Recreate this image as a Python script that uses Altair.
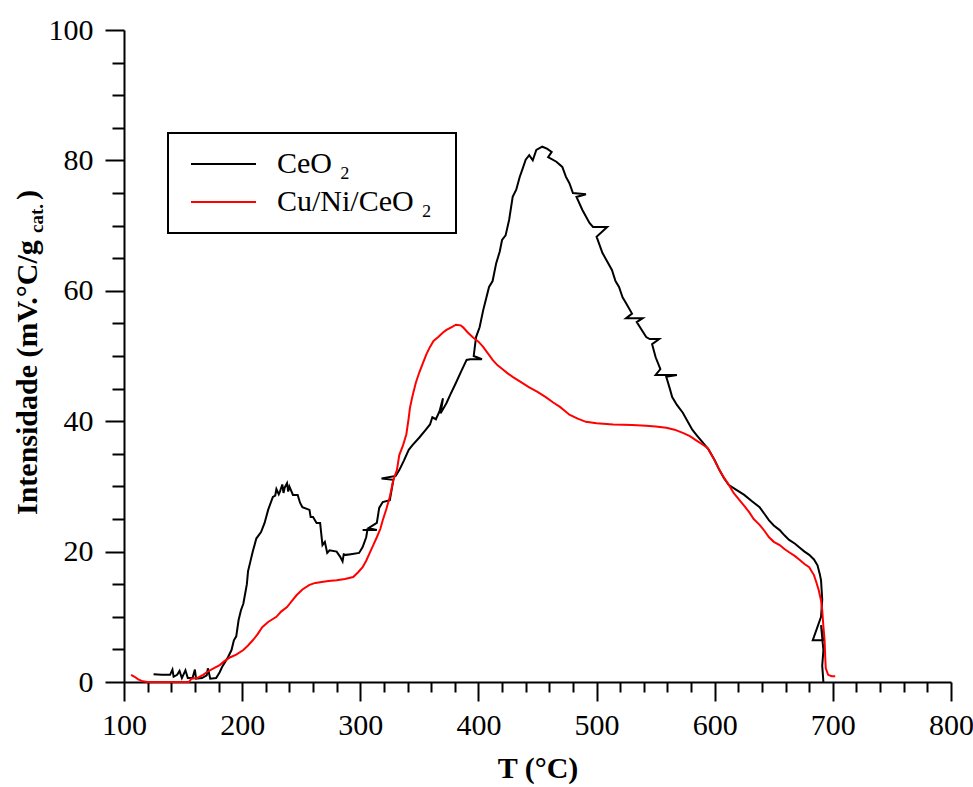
import altair as alt
import pandas as pd

# ---- data ----
ceo2_T = [125, 132, 139, 141, 142, 145, 147, 149, 152, 154, 158, 160, 161, 166, 170, 171, 173, 178, 181,
          183, 186, 188, 191, 193, 195, 197, 199, 201, 203, 204, 205, 207, 209, 212, 216, 219, 222, 226,
          228, 229, 231, 232, 234, 235, 236, 238, 239, 240, 243, 247, 249, 251, 257, 258, 260, 263, 266,
          268, 270, 272, 274, 280, 283, 285, 286, 288, 292, 299, 302, 305, 306, 302, 314, 307, 314, 316,
          319, 325, 328, 318, 330, 333, 337, 341, 344, 350, 355, 359, 361, 364, 367, 370, 368, 373, 376,
          381, 385, 390, 393, 403, 396, 398, 401, 404, 409, 412, 415, 418, 420, 423, 426, 429, 432, 435,
          437, 440, 443, 446, 449, 454, 458, 462, 459, 466, 471, 474, 477, 480, 491, 483, 488, 494, 497,
          509, 500, 505, 509, 513, 516, 519, 522, 525, 530, 525, 539, 534, 542, 545, 553, 547, 550, 554,
          550, 568, 559, 562, 564, 568, 573, 577, 581, 585, 590, 595, 600, 604, 608, 612, 618, 625, 631,
          638, 642, 646, 650, 655, 659, 663, 668, 672, 676, 680, 684, 687, 689, 690, 691, 690, 683, 692,
          690, 692, 691, 692]
ceo2_I = [1.2, 1.1, 1.1, 1.9, 0.8, 1.1, 1.7, 0.6, 1.8, 0.6, 0.6, 1.9, 0.5, 0.6, 1.0, 2.1, 0.5, 0.6, 1.5,
          2.3, 3.2, 3.8, 4.9, 6.4, 7.0, 9.5, 11.0, 12.0, 14.0, 15.0, 17.0, 18.5, 20.0, 22.0, 23.0, 24.4, 26.4, 28.4,
          28.6, 29.6, 28.8, 29.2, 30.3, 29.0, 29.8, 30.5, 29.2, 30.0, 28.7, 28.7, 27.5, 26.8, 26.4, 25.3, 25.3, 24.4, 24.4,
          21.0, 21.5, 19.8, 20.2, 20.0, 19.2, 18.5, 19.6, 19.5, 19.6, 19.8, 20.7, 22.2, 23.3, 23.3, 23.3, 23.6, 24.4, 26.7,
          27.6, 27.9, 31.0, 31.2, 31.6, 32.5, 34.0, 35.6, 36.3, 37.5, 38.6, 39.5, 40.6, 40.3, 41.5, 43.5, 41.2, 42.8, 44.0,
          45.9, 47.5, 49.4, 49.5, 49.5, 50.0, 52.9, 54.4, 57.0, 60.6, 61.5, 64.2, 66.0, 67.8, 68.5, 70.9, 74.4, 75.5, 77.5,
          78.5, 80.1, 80.8, 80.0, 81.6, 82.1, 81.8, 81.3, 80.5, 79.8, 79.0, 77.5, 76.5, 75.0, 74.8, 74.4, 72.4, 70.4, 69.8,
          69.8, 68.3, 65.8, 64.5, 63.2, 61.5, 60.6, 59.0, 58.1, 56.5, 55.8, 55.8, 55.2, 52.9, 52.6, 52.6, 51.8, 49.8, 48.0,
          47.1, 47.1, 46.8, 45.0, 43.7, 42.5, 41.3, 40.0, 38.7, 37.8, 36.7, 35.6, 34.0, 32.5, 31.2, 30.2, 29.5, 28.7, 27.8,
          26.8, 25.8, 24.8, 24.0, 23.3, 22.5, 21.8, 21.2, 20.6, 20.0, 19.5, 18.8, 17.9, 16.5, 15.6, 12.6, 10.0, 6.4, 6.4,
          8.7, 4.9, 2.5, 0.0]

cuni_T = [106, 109, 112, 116, 120, 155, 157, 162, 165, 167, 170, 175, 181, 185, 190, 195, 201, 205, 209,
          213, 217, 222, 229, 233, 238, 242, 246, 251, 257, 262, 266, 273, 280, 287, 294, 298, 302, 305,
          308, 311, 314, 317, 319, 322, 325, 328, 331, 333, 336, 339, 341, 342, 344, 347, 350, 353, 356,
          359, 362, 366, 370, 373, 377, 381, 385, 387, 391, 395, 400, 404, 408, 412, 416, 421, 425, 429,
          436, 443, 450, 457, 463, 469, 473, 477, 484, 491, 500, 514, 530, 542, 550, 559, 566, 573, 579,
          584, 589, 594, 599, 604, 608, 612, 616, 621, 625, 629, 633, 638, 642, 646, 650, 655, 659, 663,
          668, 672, 676, 680, 682, 684, 686, 688, 690, 691, 692, 693, 693.5, 694, 696, 699, 702]
cuni_I = [1.1, 0.8, 0.4, 0.1, 0.0, 0.0, 0.5, 0.6, 0.9, 1.1, 1.5, 2.0, 2.6, 3.2, 3.8, 4.2, 4.9, 5.6, 6.4,
          7.3, 8.4, 9.2, 10.0, 10.8, 11.5, 12.4, 13.3, 14.2, 14.9, 15.2, 15.3, 15.5, 15.6, 15.8, 16.1, 16.8, 17.6, 18.6,
          19.8, 21.0, 22.2, 23.5, 24.8, 26.5, 28.4, 31.0, 32.5, 34.8, 36.2, 38.0, 40.5, 42.0, 43.7, 45.9, 47.5, 48.9, 50.3,
          51.4, 52.3, 52.9, 53.6, 54.0, 54.4, 54.8, 54.7, 54.4, 53.6, 52.9, 52.2, 51.4, 50.4, 49.4, 48.6, 47.9, 47.3, 46.8,
          46.0, 45.2, 44.5, 43.7, 42.9, 42.2, 41.6, 41.0, 40.4, 39.9, 39.7, 39.5, 39.4, 39.3, 39.2, 39.0, 38.7, 38.2, 37.7,
          37.1, 36.5, 35.9, 34.3, 32.5, 31.3, 30.2, 29.0, 27.9, 27.0, 26.1, 25.0, 24.1, 23.2, 22.2, 21.5, 21.0, 20.4, 19.9,
          19.3, 18.7, 18.1, 17.6, 17.0, 16.4, 15.3, 14.1, 12.5, 11.0, 8.5, 6.4, 4.0, 2.1, 1.1, 0.9, 0.9]

series_names = ["CeO \u2082", "Cu/Ni/CeO  \u2082"]
series_colors = ["#000000", "#ff0000"]
x_ticks = list(range(100, 801, 20))
y_ticks = list(range(0, 101, 5))
y_title_main = "Intensidade (mV.\u00b0C/g"
y_title_sub = "cat."
y_title_end = ")"
x_title = "T (\u00b0C)"

rows = []
for name, ts, vs in [(series_names[0], ceo2_T, ceo2_I), (series_names[1], cuni_T, cuni_I)]:
    for i, (t, v) in enumerate(zip(ts, vs)):
        rows.append({"T": t, "I": v, "serie": name, "ordem": i})
df = pd.DataFrame(rows)

FONT = "Liberation Serif"

lines = alt.Chart(df).mark_line(strokeWidth=2, strokeJoin="miter").encode(
    x=alt.X("T:Q",
            scale=alt.Scale(domain=[100, 800], nice=False, zero=False),
            axis=alt.Axis(values=x_ticks, title=x_title, format="d",
                          labelExpr="datum.value % 100 === 0 ? datum.label : ''",
                          tickSize={"condition": {"test": "datum.value % 100 === 0", "value": 19}, "value": 10},
                          labelPadding=9, titlePadding=13, labelOverlap=False, labelFlush=False)),
    y=alt.Y("I:Q",
            scale=alt.Scale(domain=[0, 100], nice=False),
            axis=alt.Axis(values=y_ticks, title="", format="d",
                          labelExpr="datum.value % 20 === 0 ? datum.label : ''",
                          tickSize={"condition": {"test": "datum.value % 20 === 0", "value": 19}, "value": 12},
                          labelPadding=12, labelOverlap=False, labelFlush=False)),
    color=alt.Color("serie:N",
                    scale=alt.Scale(domain=series_names, range=series_colors),
                    legend=alt.Legend(title=None, orient="none", legendX=44, legendY=103,
                                      symbolType="stroke", symbolSize=4225, symbolStrokeWidth=2,
                                      symbolOffset=6,
                                      labelFont=FONT, labelFontSize=30, labelColor="black",
                                      labelOffset=20, labelLimit=400, rowPadding=8, clipHeight=30,
                                      padding=16, strokeColor="black", fillColor="white")),
    order=alt.Order("ordem:Q"),
)

t1 = alt.Chart(pd.DataFrame({"t": [y_title_main]})).mark_text(
    angle=270, align="left", baseline="alphabetic", font=FONT, fontSize=30,
    fontWeight="bold", color="black").encode(
    text="t:N", x=alt.value(-87), y=alt.value(485))
t2 = alt.Chart(pd.DataFrame({"t": [y_title_sub]})).mark_text(
    angle=270, align="left", baseline="alphabetic", font=FONT, fontSize=19,
    fontWeight="bold", color="black").encode(
    text="t:N", x=alt.value(-81), y=alt.value(203))
t3 = alt.Chart(pd.DataFrame({"t": [y_title_end]})).mark_text(
    angle=270, align="left", baseline="alphabetic", font=FONT, fontSize=30,
    fontWeight="bold", color="black").encode(
    text="t:N", x=alt.value(-87), y=alt.value(170))

chart = alt.layer(lines, t1, t2, t3).properties(
    width=827, height=652,
    autosize=alt.AutoSizeParams(type="none"),
    padding={"left": 124, "top": 30, "right": 22, "bottom": 105},
).configure_view(stroke=None).configure_axis(
    domainColor="black", domainWidth=2, tickColor="black", tickWidth=2,
    labelFont=FONT, labelFontSize=30, labelColor="black",
    titleFont=FONT, titleFontSize=30, titleFontWeight="bold", titleColor="black",
    grid=False, zindex=1,
).configure_legend(strokeWidth=2)

chart.save("out.html", embed_options={"renderer": "svg", "actions": False})
